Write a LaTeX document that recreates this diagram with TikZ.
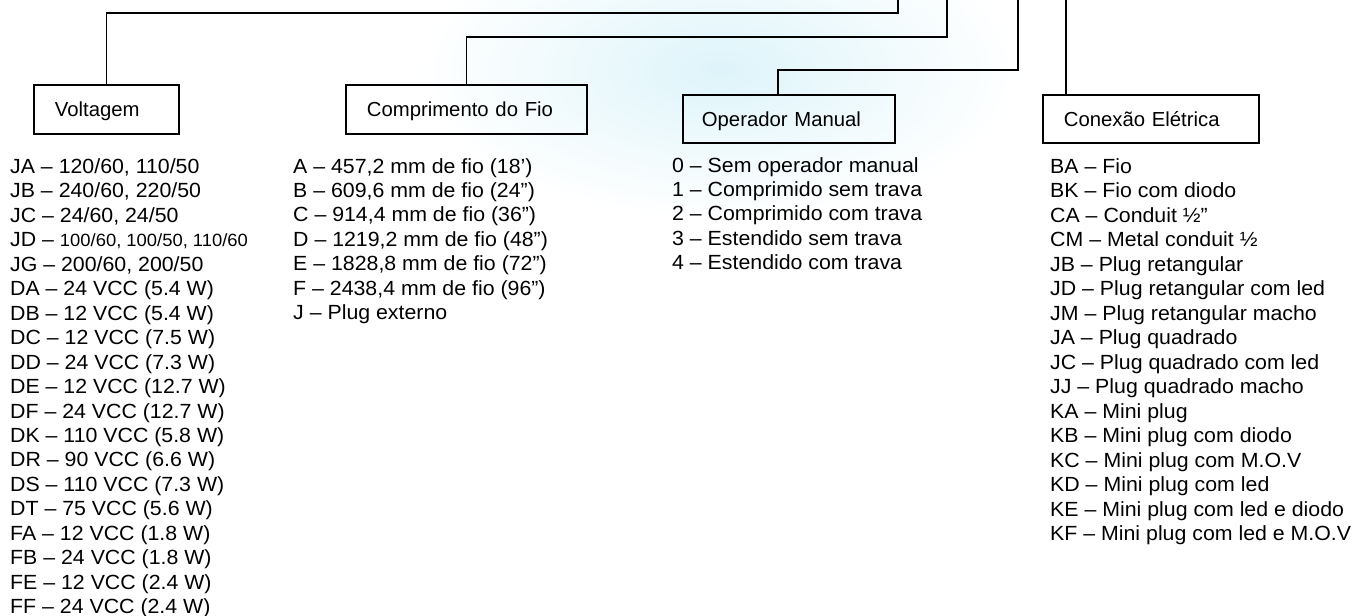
\documentclass[tikz,border=0pt]{standalone}
\usepackage{fontspec}
\setmainfont{Liberation Sans}[Ligatures={TeX,CommonOff}]
\newfontfamily\listfont{Liberation Sans}[Ligatures={TeX,CommonOff},FakeStretch=1.04]
\definecolor{wmark}{RGB}{222,244,250}
\begin{document}
\begin{tikzpicture}[x=1pt,y=-1pt,
  lblbox/.style={draw, line width=1.8pt, anchor=north west, minimum height=49pt,
    inner xsep=21pt, inner ysep=0pt, text height=14.7pt, text depth=0pt,
    align=left, font=\fontsize{20.3}{24.45}\selectfont},
  lst/.style={anchor=base west, align=left, inner sep=0pt,
    font=\listfont\fontsize{20.5}{24.45}\selectfont},
  conn/.style={line width=1.8pt}]
\useasboundingbox (0,0) rectangle (1353,616);
\fill[white] (0,0) rectangle (1353,616);
% faint background watermark
\begin{scope}
\clip (0,0) rectangle (1353,616);
\shade[inner color=wmark, outer color=white] (720,70) ellipse (300 and 150);
\end{scope}

% label boxes
\node[lblbox, text width=103pt] (volt) at (33,84) {Voltagem};
\node[lblbox, text width=199pt] (comp) at (345,84) {Comprimento do Fio};
\node[lblbox, text width=174pt, inner xsep=19pt, minimum height=48pt] (oper) at (682,94) {Operador Manual};
\node[lblbox, text width=174pt, minimum height=48pt] (conx) at (1042,94) {Conexão Elétrica};

% free ends at the top edge
\coordinate (t1) at (898,0);
\coordinate (t2) at (947,0);
\coordinate (t3) at (1018,0);
\coordinate (t4) at (1066,0);

% connectors
\draw[conn] (volt.north) -- ++(0,-71) -| (t1);
\draw[conn] (comp.north) -- ++(0,-47) -| (t2);
\draw[conn] ([xshift=96pt]oper.north west) -- ++(0,-24) -| (t3);
\draw[conn] ([xshift=24pt]conx.north west) -- (t4);

% lists (anchored at the baseline of their last line)
\node[lst] (lv) at (10,613.6) {JA – 120/60, 110/50\\
JB – 240/60, 220/50\\
JC – 24/60, 24/50\\
JD – {\fontsize{17.7}{24.45}\selectfont 100/60, 100/50, 110/60}\\
JG – 200/60, 200/50\\
DA – 24 VCC (5.4 W)\\
DB – 12 VCC (5.4 W)\\
DC – 12 VCC (7.5 W)\\
DD – 24 VCC (7.3 W)\\
DE – 12 VCC (12.7 W)\\
DF – 24 VCC (12.7 W)\\
DK – 110 VCC (5.8 W)\\
DR – 90 VCC (6.6 W)\\
DS – 110 VCC (7.3 W)\\
DT – 75 VCC (5.6 W)\\
FA – 12 VCC (1.8 W)\\
FB – 24 VCC (1.8 W)\\
FE – 12 VCC (2.4 W)\\
FF – 24 VCC (2.4 W)};

\node[lst] (lc) at (293,319.7) {A – 457,2 mm de fio (18’)\\
B – 609,6 mm de fio (24”)\\
C – 914,4 mm de fio (36”)\\
D – 1219,2 mm de fio (48”)\\
E – 1828,8 mm de fio (72”)\\
F – 2438,4 mm de fio (96”)\\
J – Plug externo};

\node[lst] (lo) at (672,269.8) {0 – Sem operador manual\\
1 – Comprimido sem trava\\
2 – Comprimido com trava\\
3 – Estendido sem trava\\
4 – Estendido com trava};

\node[lst, font=\listfont\fontsize{20.5}{24.5}\selectfont] (le) at (1050,540.5) {BA – Fio\\
BK – Fio com diodo\\
CA – Conduit ½”\\
CM – Metal conduit ½\\
JB – Plug retangular\\
JD – Plug retangular com led\\
JM – Plug retangular macho\\
JA – Plug quadrado\\
JC – Plug quadrado com led\\
JJ – Plug quadrado macho\\
KA – Mini plug\\
KB – Mini plug com diodo\\
KC – Mini plug com M.O.V\\
KD – Mini plug com led\\
KE – Mini plug com led e diodo\\
KF – Mini plug com led e M.O.V};
\end{tikzpicture}
\end{document}
